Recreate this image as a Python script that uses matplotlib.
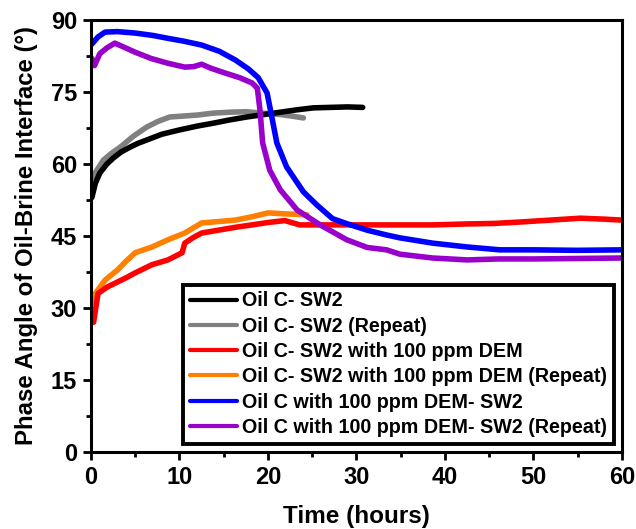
import matplotlib.pyplot as plt
from matplotlib.ticker import MultipleLocator

plt.rcParams['font.family'] = ['Liberation Sans', 'DejaVu Sans']
plt.rcParams['font.weight'] = 'bold'

# Oil C- SW2
t_black = [0.1, 0.5, 1.0, 1.8, 2.5, 3.4, 4.4, 5.3, 6.3, 8.0, 10.0, 12.0, 13.8, 15.7, 17.6, 19.5, 21.4, 23.3, 25.1, 27.0, 29.0, 30.7]
v_black = [53.0, 56.0, 58.1, 60.0, 61.2, 62.5, 63.5, 64.3, 65.0, 66.2, 67.1, 67.9, 68.5, 69.2, 69.8, 70.3, 70.8, 71.3, 71.7, 71.8, 71.9, 71.8]
# Oil C- SW2 (Repeat)
t_gray = [0.1, 0.6, 1.4, 2.3, 3.3, 4.8, 6.3, 7.6, 8.9, 10.5, 12.0, 13.8, 15.7, 17.5, 19.4, 21.5, 23.0, 24.0]
v_gray = [57.0, 58.5, 60.8, 62.2, 63.5, 65.8, 67.7, 68.9, 69.8, 70.0, 70.2, 70.6, 70.8, 70.9, 70.6, 70.3, 69.9, 69.6]
# Oil C- SW2 with 100 ppm DEM
t_red = [0.1, 0.3, 0.8, 1.8, 3.0, 4.0, 5.0, 6.0, 6.9, 8.7, 10.3, 10.6, 11.5, 12.5, 14.4, 16.3, 18.2, 20.0, 21.9, 23.6, 27.0, 31.2, 35.0, 38.6, 42.5, 45.5, 48.5, 51.9, 55.3, 58.0, 60.0]
v_red = [28.0, 27.0, 33.0, 34.3, 35.4, 36.3, 37.3, 38.2, 39.0, 40.0, 41.5, 43.5, 44.6, 45.6, 46.2, 46.8, 47.3, 47.8, 48.2, 47.3, 47.3, 47.3, 47.3, 47.3, 47.5, 47.6, 47.9, 48.3, 48.7, 48.5, 48.3]
# Oil C- SW2 with 100 ppm DEM (Repeat)
t_orange = [0.1, 0.5, 1.6, 3.0, 4.0, 5.0, 6.9, 8.7, 10.6, 12.5, 14.4, 16.3, 18.2, 20.0, 22.0, 24.4]
v_orange = [31.0, 33.0, 35.8, 37.9, 39.8, 41.5, 42.7, 44.2, 45.6, 47.7, 48.0, 48.3, 49.0, 49.8, 49.6, 49.4]
# Oil C with 100 ppm DEM- SW2
t_blue = [0.1, 0.8, 1.6, 3.0, 5.0, 7.0, 8.7, 10.5, 12.5, 14.5, 16.3, 17.8, 18.9, 19.9, 20.5, 21.0, 22.1, 24.0, 25.5, 27.3, 29.0, 31.2, 33.4, 34.9, 38.6, 42.5, 46.2, 50.0, 55.0, 60.0]
v_blue = [85.0, 86.5, 87.5, 87.6, 87.3, 86.8, 86.2, 85.6, 84.8, 83.5, 81.7, 79.8, 78.0, 74.8, 69.2, 64.4, 59.4, 54.2, 51.5, 48.6, 47.5, 46.2, 45.2, 44.6, 43.5, 42.7, 42.1, 42.1, 42.0, 42.1]
# Oil C with 100 ppm DEM- SW2 (Repeat)
t_purple = [0.1, 0.4, 1.0, 1.8, 2.7, 3.8, 5.0, 6.8, 8.7, 10.6, 11.6, 12.5, 13.5, 15.1, 16.8, 18.2, 18.8, 19.1, 19.4, 20.2, 21.4, 23.3, 25.9, 28.9, 31.2, 33.4, 34.9, 38.6, 42.5, 46.0, 50.0, 55.0, 60.0]
v_purple = [82.0, 80.5, 83.0, 84.2, 85.2, 84.3, 83.3, 82.0, 81.0, 80.2, 80.3, 80.8, 80.0, 79.0, 78.0, 76.9, 75.8, 71.2, 64.4, 58.7, 54.6, 50.4, 47.3, 44.2, 42.6, 42.1, 41.2, 40.4, 40.0, 40.2, 40.2, 40.3, 40.4]

labels = ['Oil C- SW2', 'Oil C- SW2 (Repeat)', 'Oil C- SW2 with 100 ppm DEM',
          'Oil C- SW2 with 100 ppm DEM (Repeat)', 'Oil C with 100 ppm DEM- SW2',
          'Oil C with 100 ppm DEM- SW2 (Repeat)']
colors = ['black', '#808080', '#ff0000', '#ff8000', '#0000ff', '#9900cc']

fig = plt.figure(figsize=(6.36, 5.29), dpi=100)
ax = fig.add_axes([0.143, 0.146, 0.835, 0.816])

series = [(t_black, v_black), (t_gray, v_gray), (t_red, v_red),
          (t_orange, v_orange), (t_blue, v_blue), (t_purple, v_purple)]
# repeats under the originals where they overlap
order = [1, 0, 3, 2, 4, 5]
handles = [None] * 6
for i in order:
    t, v = series[i]
    h, = ax.plot(t, v, color=colors[i], linewidth=4, label=labels[i],
                 solid_capstyle='round', solid_joinstyle='round')
    handles[i] = h

ax.set_xlim(0, 60)
ax.set_ylim(0, 90)
ax.xaxis.set_major_locator(MultipleLocator(10))
ax.xaxis.set_minor_locator(MultipleLocator(5))
ax.yaxis.set_major_locator(MultipleLocator(15))
ax.yaxis.set_minor_locator(MultipleLocator(7.5))
ax.tick_params(which='both', direction='out', width=2, length=6,
               labelsize=17, top=False, right=False, pad=4)
ax.tick_params(which='minor', length=3.5)
for lab in ax.get_xticklabels() + ax.get_yticklabels():
    lab.set_family(['Liberation Sans Narrow', 'Liberation Sans'])
    lab.set_fontweight('bold')
for s in ax.spines.values():
    s.set_linewidth(2.2)

ax.set_xlabel('Time (hours)', fontsize=17.5, fontweight='bold', labelpad=12)
ax.set_ylabel('Phase Angle of Oil-Brine Interface (°)', fontsize=17.3, fontweight='bold', labelpad=9)

leg = ax.legend(handles=handles, loc='lower right', fontsize=14.2,
                frameon=True, fancybox=False, edgecolor='black', framealpha=1,
                handlelength=2.4, handletextpad=0.25, labelspacing=0.32,
                borderpad=0.35, borderaxespad=0.4)
leg.get_frame().set_linewidth(2.8)
for txt in leg.get_texts():
    txt.set_fontweight('bold')
for line in leg.get_lines():
    line.set_linewidth(3)

fig.savefig('out.png', dpi=100)
